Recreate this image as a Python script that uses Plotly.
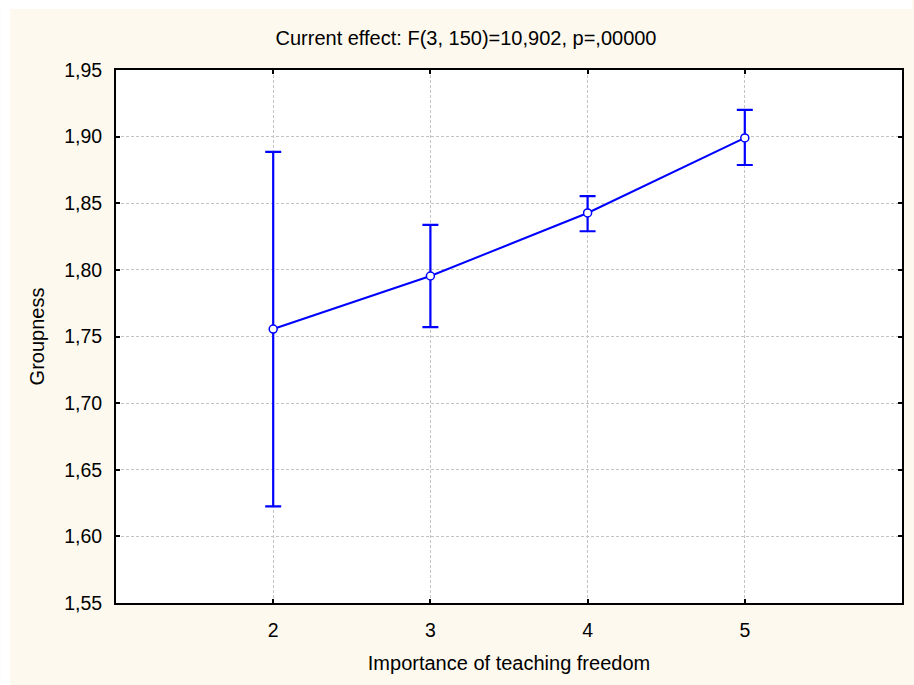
import plotly.graph_objects as go

# Data
categories = [2, 3, 4, 5]
means = [1.7556, 1.7954, 1.8427, 1.8990]
upper = [1.8885, 1.8337, 1.8554, 1.9200]
lower = [1.6225, 1.7571, 1.8290, 1.8787]
y_ticks = [1.55, 1.60, 1.65, 1.70, 1.75, 1.80, 1.85, 1.90, 1.95]
y_tick_labels = ["1,55", "1,60", "1,65", "1,70", "1,75", "1,80", "1,85", "1,90", "1,95"]
x_ticks = [2, 3, 4, 5]
title_text = "Current effect: F(3, 150)=10,902, p=,00000"
x_title = "Importance of teaching freedom"
y_title = "Groupness"

err_plus = [u - m for u, m in zip(upper, means)]
err_minus = [m - l for m, l in zip(means, lower)]

W, H = 914, 685
L, R, T, B = 116, 10, 70, 82
pw, ph = W - L - R, H - T - B

fig = go.Figure()
fig.add_trace(go.Scatter(
    x=categories, y=means, mode="lines+markers",
    line=dict(color="#0000FF", width=2),
    marker=dict(symbol="circle", size=8, color="white",
                line=dict(color="#0000FF", width=1.5)),
    error_y=dict(type="data", symmetric=False, array=err_plus, arrayminus=err_minus,
                 color="#0000FF", thickness=2.2, width=8),
    showlegend=False,
))

font = dict(family="Liberation Sans, Arial, sans-serif", size=20, color="black")
tick_font = dict(family="Liberation Sans, Arial, sans-serif", size=19.5, color="black")
grid_dash = "3px,2px"

fig.update_layout(
    width=W, height=H,
    margin=dict(l=L, r=R, t=T, b=B),
    paper_bgcolor="#FEF9EE",
    plot_bgcolor="white",
    font=font,
    title=dict(text=title_text, x=466 / W, xref="container", xanchor="center",
               y=1 - 38 / H, yref="container", yanchor="middle", font=font),
    xaxis=dict(range=[1, 6], tickvals=x_ticks, ticktext=[str(v) for v in x_ticks],
               tickfont=tick_font,
               showgrid=True, gridcolor="#C4C4C4", griddash=grid_dash, gridwidth=1,
               showline=True, linecolor="black", linewidth=2, mirror="ticks",
               ticks="inside", ticklen=4, tickcolor="black", tickwidth=2,
               ticklabelstandoff=9, zeroline=False,
               title=dict(text=x_title, font=font, standoff=16)),
    yaxis=dict(range=[1.55, 1.95], tickvals=y_ticks, ticktext=y_tick_labels,
               tickfont=tick_font,
               showgrid=True, gridcolor="#C4C4C4", griddash=grid_dash, gridwidth=1,
               showline=True, linecolor="black", linewidth=2, mirror="ticks",
               ticks="inside", ticklen=4, tickcolor="black", tickwidth=2,
               ticklabelstandoff=8, zeroline=False,
               title=dict(text=y_title, font=font, standoff=14)),
)

# white strips on top and left edges (reference has an uncoloured border)
fig.add_shape(type="rect", xref="paper", yref="paper", layer="below",
              x0=-L / pw, x1=(W - L) / pw, y0=1 + (T - 9) / ph, y1=1 + T / ph,
              fillcolor="white", line=dict(width=0))
fig.add_shape(type="rect", xref="paper", yref="paper", layer="below",
              x0=-L / pw, x1=-(L - 10) / pw, y0=-B / ph, y1=1 + T / ph,
              fillcolor="white", line=dict(width=0))

fig.write_html("out.html", config={"displayModeBar": False},
               post_script="document.body.style.margin='0';")
